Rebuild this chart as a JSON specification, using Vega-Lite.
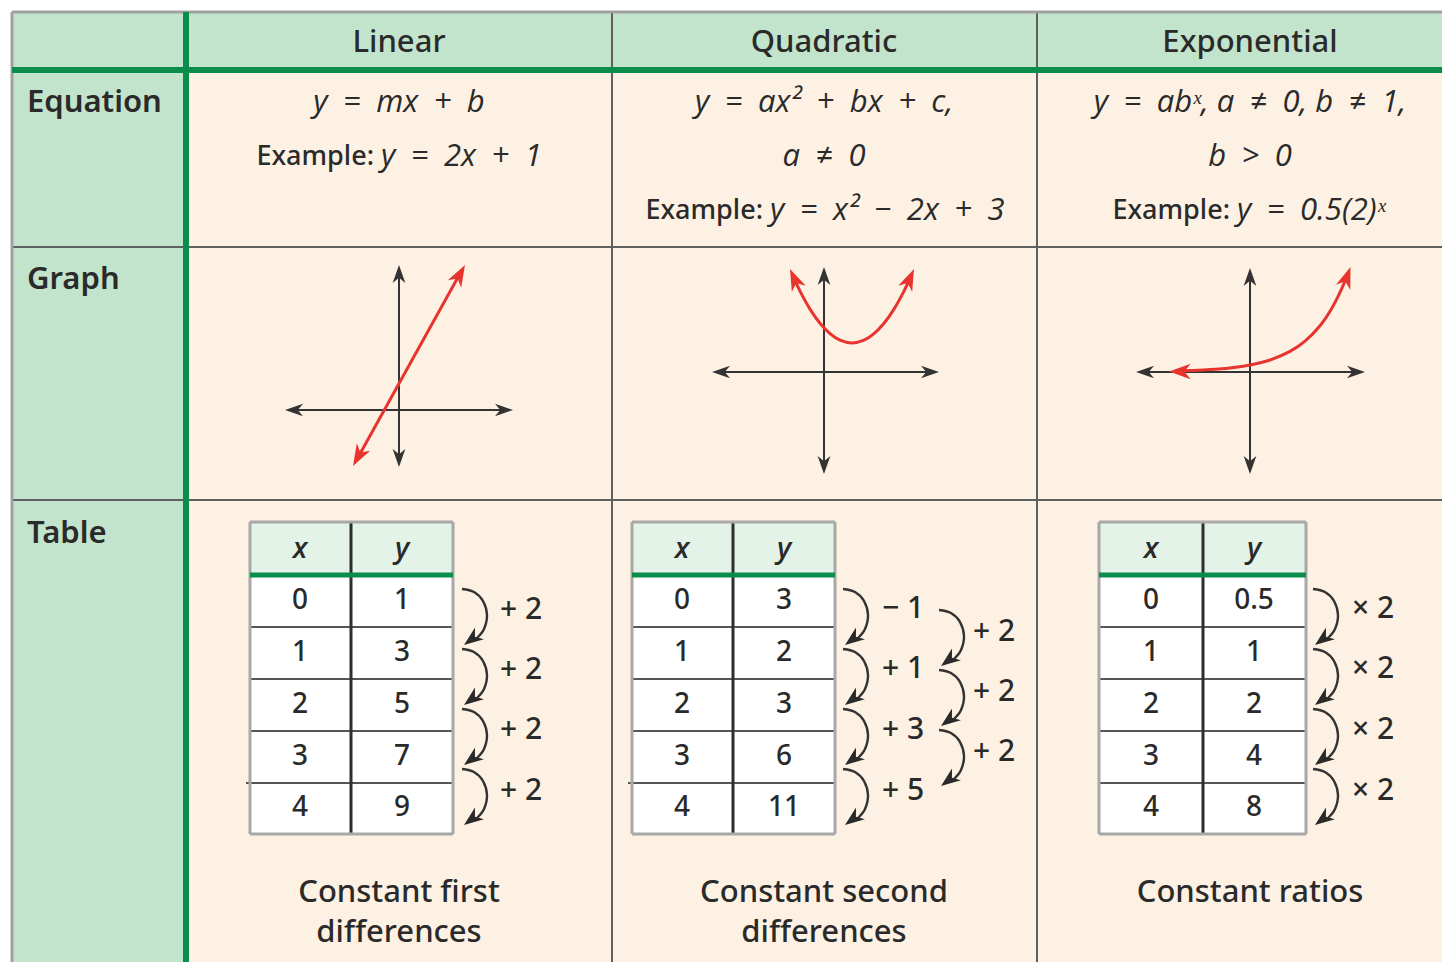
{
 "$schema": "https://vega.github.io/schema/vega-lite/v6.json",
 "width": 1442, "height": 962, "padding": 0, "autosize": {"type": "none"},
 "background": "#ffffff",
 "config": {"view": {"stroke": null}, "text": {"font": "Noto Sans", "color": "#2a2a2a", "baseline": "middle", "fontWeight": 500}},
 "datasets": {
  "peach": [{"x":12,"y":12,"x2":1442,"y2":962}],
  "green": [{"x":12,"y":12,"x2":186,"y2":962},{"x":12,"y":12,"x2":1442,"y2":70}],
  "mint": [{"x":250,"y":522,"x2":453,"y2":575},{"x":632,"y":522,"x2":835,"y2":575},{"x":1099,"y":522,"x2":1306,"y2":575}],
  "white": [{"x":250,"y":575,"x2":453,"y2":834},{"x":632,"y":575,"x2":835,"y2":834},{"x":1099,"y":575,"x2":1306,"y2":834}],
  "border": [{"x":12,"y":12,"x2":1442,"y2":12},{"x":12,"y":12,"x2":12,"y2":962}],
  "grid": [{"x":612,"y":12,"x2":612,"y2":962},{"x":1037,"y":12,"x2":1037,"y2":962},{"x":12,"y":247,"x2":1442,"y2":247},{"x":12,"y":500,"x2":1442,"y2":500}],
  "greenline": [{"x":186,"y":12,"x2":186,"y2":962},{"x":12,"y":70,"x2":1442,"y2":70}],
  "trow": [
   {"x":250,"y":627,"x2":453,"y2":627},{"x":250,"y":679,"x2":453,"y2":679},{"x":250,"y":731,"x2":453,"y2":731},{"x":246,"y":783,"x2":453,"y2":783},
   {"x":632,"y":627,"x2":835,"y2":627},{"x":632,"y":679,"x2":835,"y2":679},{"x":632,"y":731,"x2":835,"y2":731},{"x":628,"y":783,"x2":835,"y2":783},
   {"x":1099,"y":627,"x2":1306,"y2":627},{"x":1099,"y":679,"x2":1306,"y2":679},{"x":1099,"y":731,"x2":1306,"y2":731},{"x":1099,"y":783,"x2":1306,"y2":783}],
  "tmid": [{"x":351,"y":522,"x2":351,"y2":834},{"x":733,"y":522,"x2":733,"y2":834},{"x":1203,"y":522,"x2":1203,"y2":834}],
  "tout": [
   {"x":250,"y":522,"x2":453,"y2":522},{"x":250,"y":834,"x2":453,"y2":834},{"x":250,"y":522,"x2":250,"y2":834},{"x":453,"y":522,"x2":453,"y2":834},
   {"x":632,"y":522,"x2":835,"y2":522},{"x":632,"y":834,"x2":835,"y2":834},{"x":632,"y":522,"x2":632,"y2":834},{"x":835,"y":522,"x2":835,"y2":834},
   {"x":1099,"y":522,"x2":1306,"y2":522},{"x":1099,"y":834,"x2":1306,"y2":834},{"x":1099,"y":522,"x2":1099,"y2":834},{"x":1306,"y":522,"x2":1306,"y2":834}],
  "thead": [{"x":250,"y":575,"x2":453,"y2":575},{"x":632,"y":575,"x2":835,"y2":575},{"x":1099,"y":575,"x2":1306,"y2":575}],
  "axis": [
   {"x":291,"y":410,"x2":507,"y2":410},{"x":399,"y":271,"x2":399,"y2":461},
   {"x":718,"y":372,"x2":933,"y2":372},{"x":824,"y":273,"x2":824,"y2":468},
   {"x":1142,"y":372,"x2":1359,"y2":372},{"x":1250,"y":274,"x2":1250,"y2":468}],
  "red": [
   {"id":"L","i":0,"x":356,"y":461},{"id":"L","i":1,"x":462,"y":270},
   {"id":"Q","i":0,"x":793,"y":276.2},{"id":"Q","i":1,"x":800,"y":291.1},{"id":"Q","i":2,"x":810,"y":309.1},{"id":"Q","i":3,"x":820,"y":323.3},{"id":"Q","i":4,"x":830,"y":333.7},{"id":"Q","i":5,"x":840,"y":340.2},{"id":"Q","i":6,"x":852,"y":343},{"id":"Q","i":7,"x":864,"y":340.2},{"id":"Q","i":8,"x":874,"y":333.7},{"id":"Q","i":9,"x":884,"y":323.3},{"id":"Q","i":10,"x":894,"y":309.1},{"id":"Q","i":11,"x":904,"y":291.1},{"id":"Q","i":12,"x":911,"y":276.2},
   {"id":"E","i":0,"x":1176,"y":371.1},{"id":"E","i":1,"x":1190,"y":370.6},{"id":"E","i":2,"x":1210,"y":369.6},{"id":"E","i":3,"x":1230,"y":367.9},{"id":"E","i":4,"x":1250,"y":365},{"id":"E","i":5,"x":1270,"y":360},{"id":"E","i":6,"x":1290,"y":351.4},{"id":"E","i":7,"x":1305,"y":341.1},{"id":"E","i":8,"x":1320,"y":325.7},{"id":"E","i":9,"x":1332,"y":307.9},{"id":"E","i":10,"x":1342,"y":288.1},{"id":"E","i":11,"x":1348,"y":273.3}],
  "arcs": [
   {"id":"a1","i":0,"x":462,"y":589},{"id":"a1","i":1,"x":474,"y":592},{"id":"a1","i":2,"x":483,"y":601},{"id":"a1","i":3,"x":487,"y":615},{"id":"a1","i":4,"x":484,"y":629},{"id":"a1","i":5,"x":477,"y":638},
   {"id":"a2","i":0,"x":462,"y":649},{"id":"a2","i":1,"x":474,"y":652},{"id":"a2","i":2,"x":483,"y":661},{"id":"a2","i":3,"x":487,"y":675},{"id":"a2","i":4,"x":484,"y":689},{"id":"a2","i":5,"x":477,"y":698},
   {"id":"a3","i":0,"x":462,"y":709},{"id":"a3","i":1,"x":474,"y":712},{"id":"a3","i":2,"x":483,"y":721},{"id":"a3","i":3,"x":487,"y":735},{"id":"a3","i":4,"x":484,"y":749},{"id":"a3","i":5,"x":477,"y":758},
   {"id":"a4","i":0,"x":462,"y":769},{"id":"a4","i":1,"x":474,"y":772},{"id":"a4","i":2,"x":483,"y":781},{"id":"a4","i":3,"x":487,"y":795},{"id":"a4","i":4,"x":484,"y":809},{"id":"a4","i":5,"x":477,"y":818},
   {"id":"b1","i":0,"x":843,"y":589},{"id":"b1","i":1,"x":855,"y":592},{"id":"b1","i":2,"x":864,"y":601},{"id":"b1","i":3,"x":868,"y":615},{"id":"b1","i":4,"x":865,"y":629},{"id":"b1","i":5,"x":858,"y":638},
   {"id":"b2","i":0,"x":843,"y":649},{"id":"b2","i":1,"x":855,"y":652},{"id":"b2","i":2,"x":864,"y":661},{"id":"b2","i":3,"x":868,"y":675},{"id":"b2","i":4,"x":865,"y":689},{"id":"b2","i":5,"x":858,"y":698},
   {"id":"b3","i":0,"x":843,"y":709},{"id":"b3","i":1,"x":855,"y":712},{"id":"b3","i":2,"x":864,"y":721},{"id":"b3","i":3,"x":868,"y":735},{"id":"b3","i":4,"x":865,"y":749},{"id":"b3","i":5,"x":858,"y":758},
   {"id":"b4","i":0,"x":843,"y":769},{"id":"b4","i":1,"x":855,"y":772},{"id":"b4","i":2,"x":864,"y":781},{"id":"b4","i":3,"x":868,"y":795},{"id":"b4","i":4,"x":865,"y":809},{"id":"b4","i":5,"x":858,"y":818},
   {"id":"c1","i":0,"x":939,"y":610},{"id":"c1","i":1,"x":951,"y":613},{"id":"c1","i":2,"x":960,"y":622},{"id":"c1","i":3,"x":964,"y":636},{"id":"c1","i":4,"x":961,"y":650},{"id":"c1","i":5,"x":954,"y":659},
   {"id":"c2","i":0,"x":939,"y":670},{"id":"c2","i":1,"x":951,"y":673},{"id":"c2","i":2,"x":960,"y":682},{"id":"c2","i":3,"x":964,"y":696},{"id":"c2","i":4,"x":961,"y":710},{"id":"c2","i":5,"x":954,"y":719},
   {"id":"c3","i":0,"x":939,"y":730},{"id":"c3","i":1,"x":951,"y":733},{"id":"c3","i":2,"x":960,"y":742},{"id":"c3","i":3,"x":964,"y":756},{"id":"c3","i":4,"x":961,"y":770},{"id":"c3","i":5,"x":954,"y":779},
   {"id":"d1","i":0,"x":1313,"y":589},{"id":"d1","i":1,"x":1325,"y":592},{"id":"d1","i":2,"x":1334,"y":601},{"id":"d1","i":3,"x":1338,"y":615},{"id":"d1","i":4,"x":1335,"y":629},{"id":"d1","i":5,"x":1328,"y":638},
   {"id":"d2","i":0,"x":1313,"y":649},{"id":"d2","i":1,"x":1325,"y":652},{"id":"d2","i":2,"x":1334,"y":661},{"id":"d2","i":3,"x":1338,"y":675},{"id":"d2","i":4,"x":1335,"y":689},{"id":"d2","i":5,"x":1328,"y":698},
   {"id":"d3","i":0,"x":1313,"y":709},{"id":"d3","i":1,"x":1325,"y":712},{"id":"d3","i":2,"x":1334,"y":721},{"id":"d3","i":3,"x":1338,"y":735},{"id":"d3","i":4,"x":1335,"y":749},{"id":"d3","i":5,"x":1328,"y":758},
   {"id":"d4","i":0,"x":1313,"y":769},{"id":"d4","i":1,"x":1325,"y":772},{"id":"d4","i":2,"x":1334,"y":781},{"id":"d4","i":3,"x":1338,"y":795},{"id":"d4","i":4,"x":1335,"y":809},{"id":"d4","i":5,"x":1328,"y":818}],
  "redheads": [{"x":353,"y":466,"a":209},{"x":465,"y":265,"a":29},{"x":790,"y":269,"a":336},{"x":914,"y":269,"a":24},{"x":1169,"y":371.5,"a":270},{"x":1350.5,"y":267,"a":20}],
  "axisheads": [
   {"x":285,"y":410,"a":270},{"x":513,"y":410,"a":90},{"x":399,"y":265,"a":0},{"x":399,"y":467,"a":180},
   {"x":712,"y":372,"a":270},{"x":939,"y":372,"a":90},{"x":824,"y":267,"a":0},{"x":824,"y":474,"a":180},
   {"x":1136,"y":372,"a":270},{"x":1365,"y":372,"a":90},{"x":1250,"y":268,"a":0},{"x":1250,"y":474,"a":180}],
  "archeads": [
   {"x":464,"y":645,"a":233},{"x":464,"y":705,"a":233},{"x":464,"y":765,"a":233},{"x":464,"y":825,"a":233},
   {"x":845,"y":645,"a":233},{"x":845,"y":705,"a":233},{"x":845,"y":765,"a":233},{"x":845,"y":825,"a":233},
   {"x":941,"y":666,"a":233},{"x":941,"y":726,"a":233},{"x":941,"y":786,"a":233},
   {"x":1315,"y":645,"a":233},{"x":1315,"y":705,"a":233},{"x":1315,"y":765,"a":233},{"x":1315,"y":825,"a":233}],
  "head": [{"t":"Linear","x":399,"y":43},{"t":"Quadratic","x":824,"y":43},{"t":"Exponential","x":1250,"y":43}],
  "label": [{"t":"Equation","x":27,"y":103},{"t":"Graph","x":27,"y":280},{"t":"Table","x":27,"y":534}],
  "eqi": [{"t":"y\u2002=\u2002mx\u2002+\u2002b","x":399,"y":103},{"t":"y\u2002=\u2002ax\u00b2\u2002+\u2002bx\u2002+\u2002c,","x":824,"y":103},{"t":"a\u2002\u2260\u20020","x":824,"y":157},{"t":"y\u2002=\u2002ab\u02e3, a\u2002\u2260\u20020, b\u2002\u2260\u20021,","x":1250,"y":103},{"t":"b\u2002>\u20020","x":1250,"y":157}],
  "exl": [{"t":"Example:","x":374,"y":157},{"t":"Example:","x":763,"y":211},{"t":"Example:","x":1230,"y":211}],
  "exr": [{"t":"y\u2002=\u20022x\u2002+\u20021","x":381,"y":157},{"t":"y\u2002=\u2002x\u00b2\u2002\u2212\u20022x\u2002+\u20023","x":770,"y":211},{"t":"y\u2002=\u20020.5(2)\u02e3","x":1237,"y":211}],
  "th": [{"t":"x","x":300,"y":549},{"t":"y","x":402,"y":549},{"t":"x","x":682,"y":549},{"t":"y","x":784,"y":549},{"t":"x","x":1151,"y":549},{"t":"y","x":1254,"y":549}],
  "num": [
   {"t":"0","x":300,"y":601},{"t":"1","x":300,"y":653},{"t":"2","x":300,"y":705},{"t":"3","x":300,"y":757},{"t":"4","x":300,"y":808},
   {"t":"1","x":402,"y":601},{"t":"3","x":402,"y":653},{"t":"5","x":402,"y":705},{"t":"7","x":402,"y":757},{"t":"9","x":402,"y":808},
   {"t":"0","x":682,"y":601},{"t":"1","x":682,"y":653},{"t":"2","x":682,"y":705},{"t":"3","x":682,"y":757},{"t":"4","x":682,"y":808},
   {"t":"3","x":784,"y":601},{"t":"2","x":784,"y":653},{"t":"3","x":784,"y":705},{"t":"6","x":784,"y":757},{"t":"11","x":784,"y":808},
   {"t":"0","x":1151,"y":601},{"t":"1","x":1151,"y":653},{"t":"2","x":1151,"y":705},{"t":"3","x":1151,"y":757},{"t":"4","x":1151,"y":808},
   {"t":"0.5","x":1254,"y":601},{"t":"1","x":1254,"y":653},{"t":"2","x":1254,"y":705},{"t":"4","x":1254,"y":757},{"t":"8","x":1254,"y":808}],
  "diff": [
   {"t":"+ 2","x":521,"y":610},{"t":"+ 2","x":521,"y":670},{"t":"+ 2","x":521,"y":730},{"t":"+ 2","x":521,"y":791},
   {"t":"\u2212 1","x":903,"y":609},{"t":"+ 1","x":903,"y":669},{"t":"+ 3","x":903,"y":730},{"t":"+ 5","x":903,"y":791},
   {"t":"+ 2","x":994,"y":632},{"t":"+ 2","x":994,"y":692},{"t":"+ 2","x":994,"y":752},
   {"t":"\u00d7 2","x":1373,"y":609},{"t":"\u00d7 2","x":1373,"y":669},{"t":"\u00d7 2","x":1373,"y":730},{"t":"\u00d7 2","x":1373,"y":791}],
  "cap": [{"t":"Constant first","x":399,"y":893},{"t":"differences","x":399,"y":933},{"t":"Constant second","x":824,"y":893},{"t":"differences","x":824,"y":933},{"t":"Constant ratios","x":1250,"y":893}]
 },
 "encoding": {
  "x": {"field":"x","type":"quantitative","scale":{"domain":[0,1442],"nice":false,"zero":false},"axis":null},
  "y": {"field":"y","type":"quantitative","scale":{"domain":[0,962],"nice":false,"zero":false,"reverse":true},"axis":null}
 },
 "layer": [
  {"data":{"name":"peach"},"mark":{"type":"rect","color":"#fdf1e3"},"encoding":{"x2":{"field":"x2"},"y2":{"field":"y2"}}},
  {"data":{"name":"green"},"mark":{"type":"rect","color":"#c3e4cc"},"encoding":{"x2":{"field":"x2"},"y2":{"field":"y2"}}},
  {"data":{"name":"mint"},"mark":{"type":"rect","color":"#e3f3e7"},"encoding":{"x2":{"field":"x2"},"y2":{"field":"y2"}}},
  {"data":{"name":"white"},"mark":{"type":"rect","color":"#ffffff"},"encoding":{"x2":{"field":"x2"},"y2":{"field":"y2"}}},
  {"data":{"name":"grid"},"mark":{"type":"rule","color":"#5f5f5f","strokeWidth":2},"encoding":{"x2":{"field":"x2"},"y2":{"field":"y2"}}},
  {"data":{"name":"border"},"mark":{"type":"rule","color":"#a0a0a0","strokeWidth":3},"encoding":{"x2":{"field":"x2"},"y2":{"field":"y2"}}},
  {"data":{"name":"greenline"},"mark":{"type":"rule","color":"#0a8c4a","strokeWidth":6},"encoding":{"x2":{"field":"x2"},"y2":{"field":"y2"}}},
  {"data":{"name":"trow"},"mark":{"type":"rule","color":"#555555","strokeWidth":2},"encoding":{"x2":{"field":"x2"},"y2":{"field":"y2"}}},
  {"data":{"name":"tmid"},"mark":{"type":"rule","color":"#2e2e2e","strokeWidth":3},"encoding":{"x2":{"field":"x2"},"y2":{"field":"y2"}}},
  {"data":{"name":"tout"},"mark":{"type":"rule","color":"#a8a8a8","strokeWidth":3},"encoding":{"x2":{"field":"x2"},"y2":{"field":"y2"}}},
  {"data":{"name":"thead"},"mark":{"type":"rule","color":"#0a8c4a","strokeWidth":5},"encoding":{"x2":{"field":"x2"},"y2":{"field":"y2"}}},
  {"data":{"name":"axis"},"mark":{"type":"rule","color":"#333333","strokeWidth":2},"encoding":{"x2":{"field":"x2"},"y2":{"field":"y2"}}},
  {"data":{"name":"red"},"mark":{"type":"line","color":"#e8342f","strokeWidth":3,"interpolate":"cardinal"},"encoding":{"detail":{"field":"id"},"order":{"field":"i","type":"quantitative"}}},
  {"data":{"name":"arcs"},"mark":{"type":"line","color":"#333333","strokeWidth":2.4,"interpolate":"cardinal"},"encoding":{"detail":{"field":"id"},"order":{"field":"i","type":"quantitative"}}},
  {"data":{"name":"redheads"},"mark":{"type":"point","shape":"M0,0L0.6,1.7L0,1.2L-0.6,1.7Z","filled":true,"opacity":1,"color":"#e8342f","size":650,"strokeWidth":0},"encoding":{"angle":{"field":"a","type":"quantitative","scale":null}}},
  {"data":{"name":"axisheads"},"mark":{"type":"point","shape":"M0,0L0.6,1.7L0,1.2L-0.6,1.7Z","filled":true,"opacity":1,"color":"#333333","size":450,"strokeWidth":0},"encoding":{"angle":{"field":"a","type":"quantitative","scale":null}}},
  {"data":{"name":"archeads"},"mark":{"type":"point","shape":"M0,0L0.65,1.7L0,1.2L-0.65,1.7Z","filled":true,"opacity":1,"color":"#2a2a2a","size":520,"strokeWidth":0},"encoding":{"angle":{"field":"a","type":"quantitative","scale":null}}},
  {"data":{"name":"head"},"mark":{"type":"text","fontSize":31,"align":"center"},"encoding":{"text":{"field":"t"}}},
  {"data":{"name":"label"},"mark":{"type":"text","fontSize":31,"fontWeight":600,"align":"left"},"encoding":{"text":{"field":"t"}}},
  {"data":{"name":"eqi"},"mark":{"type":"text","font":"Open Sans","fontSize":31,"fontStyle":"italic","fontWeight":400,"align":"center"},"encoding":{"text":{"field":"t"}}},
  {"data":{"name":"exl"},"mark":{"type":"text","fontSize":27,"align":"right"},"encoding":{"text":{"field":"t"}}},
  {"data":{"name":"exr"},"mark":{"type":"text","font":"Open Sans","fontSize":31,"fontStyle":"italic","fontWeight":400,"align":"left"},"encoding":{"text":{"field":"t"}}},
  {"data":{"name":"th"},"mark":{"type":"text","font":"Open Sans","fontSize":29,"fontStyle":"italic","fontWeight":600,"align":"center"},"encoding":{"text":{"field":"t"}}},
  {"data":{"name":"num"},"mark":{"type":"text","fontSize":28,"align":"center"},"encoding":{"text":{"field":"t"}}},
  {"data":{"name":"diff"},"mark":{"type":"text","fontSize":30,"align":"center"},"encoding":{"text":{"field":"t"}}},
  {"data":{"name":"cap"},"mark":{"type":"text","fontSize":31,"align":"center"},"encoding":{"text":{"field":"t"}}}
 ]
}
